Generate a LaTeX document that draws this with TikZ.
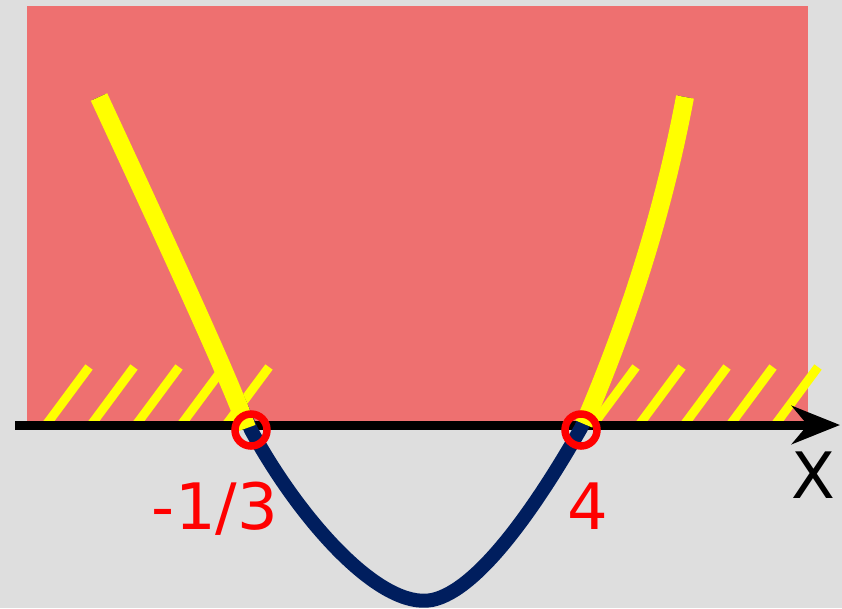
\documentclass[tikz,border=0pt]{standalone}
\usepackage{fontspec}
\setmainfont{DejaVu Sans}
\usetikzlibrary{positioning,arrows.meta}

\definecolor{bggray}{HTML}{DEDEDE}
\definecolor{regionred}{HTML}{EE7070}
\definecolor{curvenavy}{HTML}{001E5E}
\definecolor{markyellow}{HTML}{FFFF00}
\definecolor{markred}{HTML}{FF0000}

\begin{document}
\begin{tikzpicture}[
    x=1pt,
    y=-1pt,
    >=Stealth,
    hatch/.style={markyellow, line width=9pt},
    branch/.style={markyellow, line width=18pt},
    root/.style={circle, draw=markred, line width=7.5pt, minimum size=32pt, inner sep=0pt},
    value/.style={text=markred, font=\fontsize{64}{70}\selectfont, inner sep=0pt, anchor=base}
]

% Background and region
\fill[bggray] (0,0) rectangle (842,608);
\useasboundingbox (0,0) rectangle (842,608);
\fill[regionred] (27,6) rectangle (808,424);

% Hatching on the axis
\foreach \hx in {46,91,136,181,226,593,639,684,730,775}
    \draw[hatch] (\hx,425) -- ++(43,-58);

% Axis
\coordinate (axstart) at (15,425);
\coordinate (axend) at (840,425);
\draw[line width=9pt, -{Stealth[length=48pt,width=38pt]}]
    (axstart) -- (axend);

% Parabola
\draw[curvenavy, line width=14pt] (99,97) .. controls (170,250) and (230,380) .. (251,430)
    .. controls (300,520) and (380,610) .. (432,600)
    .. controls (480,590) and (540,500) .. (581,428)
    .. controls (620,340) and (660,230) .. (685,97);

% Parts above the axis
\draw[branch] (99,97) .. controls (170,250) and (230,380) .. (247,428);
\draw[branch] (584,424) .. controls (620,340) and (660,230) .. (685,97);

% Roots
\node[root] (rootL) at (251,430) {};
\node[root] (rootR) at (581,430) {};

% Labels
\node[value] (labL) at (215,529) {-1/3};
\node[value] (labR) at (588,529) {4};
\node[value, text=black] (xlab) at (813,498) {X};

\end{tikzpicture}
\end{document}
